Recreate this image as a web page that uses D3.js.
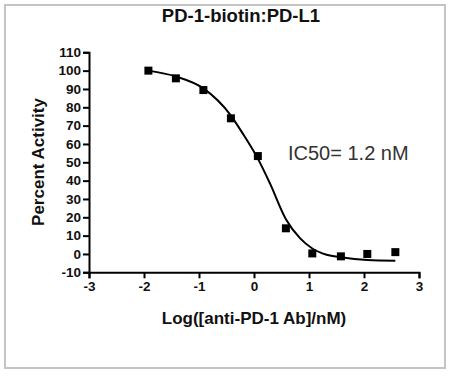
<!DOCTYPE html>
<html>
<head>
<meta charset="utf-8">
<script src="https://cdn.jsdelivr.net/npm/d3@7/dist/d3.min.js"></script>
<style>
  body { margin: 0; background: #fff; }
  svg { display: block; font-family: "Liberation Sans", Arial, sans-serif; }
  .axis path, .axis line { stroke: #000; stroke-width: 2px; }
  .axis text { font-size: 13.5px; font-weight: bold; fill: #111; }
</style>
</head>
<body>
<div class="chart"></div>
<script>
// data
const logConc = [-1.92, -1.42, -0.92, -0.42, 0.07, 0.58, 1.06, 1.58, 2.06, 2.57];
const activity = [100, 95.8, 89.4, 74, 53.4, 14, 0.3, -1.3, 0, 1];
// fitted curve
const fitX = [-1.92, -1.42, -0.92, -0.42, -0.19, 0.07, 0.29, 0.58, 0.84, 1.06, 1.32, 1.58, 2.06, 2.57];
const fitY = [100.0, 96.8, 90.3, 75.5, 65.0, 52.0, 38.5, 19.0, 8.5, 3.0, -0.4, -1.8, -3.3, -3.7];
const xTicks = [-3, -2, -1, 0, 1, 2, 3];
const yTicks = [-10, 0, 10, 20, 30, 40, 50, 60, 70, 80, 90, 100, 110];

const width = 452, height = 376;
const svg = d3.select('.chart').append('svg').attr('width', width).attr('height', height);

// frame
svg.append('rect')
  .attr('x', 5).attr('y', 5).attr('width', 440).attr('height', 363)
  .attr('fill', 'none').attr('stroke', '#c4c4c4').attr('stroke-width', 2);

const xScale = d3.scaleLinear().domain([-3, 3]).range([89, 419]);
const yScale = d3.scaleLinear().domain([-10, 110]).range([272.3, 52.3]);

svg.append('g')
  .attr('class', 'axis')
  .attr('transform', 'translate(0,' + yScale(-10) + ')')
  .call(d3.axisBottom(xScale).tickValues(xTicks).tickSize(6).tickPadding(3).tickFormat((d) => String(d)));

svg.append('g')
  .attr('class', 'axis')
  .attr('transform', 'translate(' + xScale(-3) + ',0)')
  .call(d3.axisLeft(yScale).tickValues(yTicks).tickSize(6).tickPadding(2).tickFormat((d) => String(d)));

// fit line
const line = d3.line()
  .x((d) => xScale(d[0]))
  .y((d) => yScale(d[1]))
  .curve(d3.curveMonotoneX);
svg.append('path')
  .datum(fitX.map((x, i) => [x, fitY[i]]))
  .attr('d', line)
  .attr('fill', 'none')
  .attr('stroke', '#000')
  .attr('stroke-width', 2);

// points
const sq = 8;
svg.append('g').selectAll('rect')
  .data(logConc)
  .join('rect')
  .attr('x', (d) => xScale(d) - sq / 2)
  .attr('y', (d, i) => yScale(activity[i]) - sq / 2)
  .attr('width', sq).attr('height', sq)
  .attr('fill', '#000');

// texts
svg.append('text')
  .attr('x', 241).attr('y', 22)
  .attr('text-anchor', 'middle')
  .style('font-size', '18.5px').style('font-weight', 'bold').attr('fill', '#111')
  .text('PD-1-biotin:PD-L1');

svg.append('text')
  .attr('x', 254).attr('y', 324)
  .attr('text-anchor', 'middle')
  .style('font-size', '17px').style('font-weight', 'bold').attr('fill', '#111')
  .text('Log([anti-PD-1 Ab]/nM)');

svg.append('text')
  .attr('transform', 'translate(44,162) rotate(-90)')
  .attr('text-anchor', 'middle')
  .style('font-size', '17px').style('font-weight', 'bold').attr('fill', '#111')
  .text('Percent Activity');

svg.append('text')
  .attr('x', 288).attr('y', 160)
  .style('font-size', '20px').attr('fill', '#333')
  .text('IC50= 1.2 nM');
</script>
</body>
</html>
